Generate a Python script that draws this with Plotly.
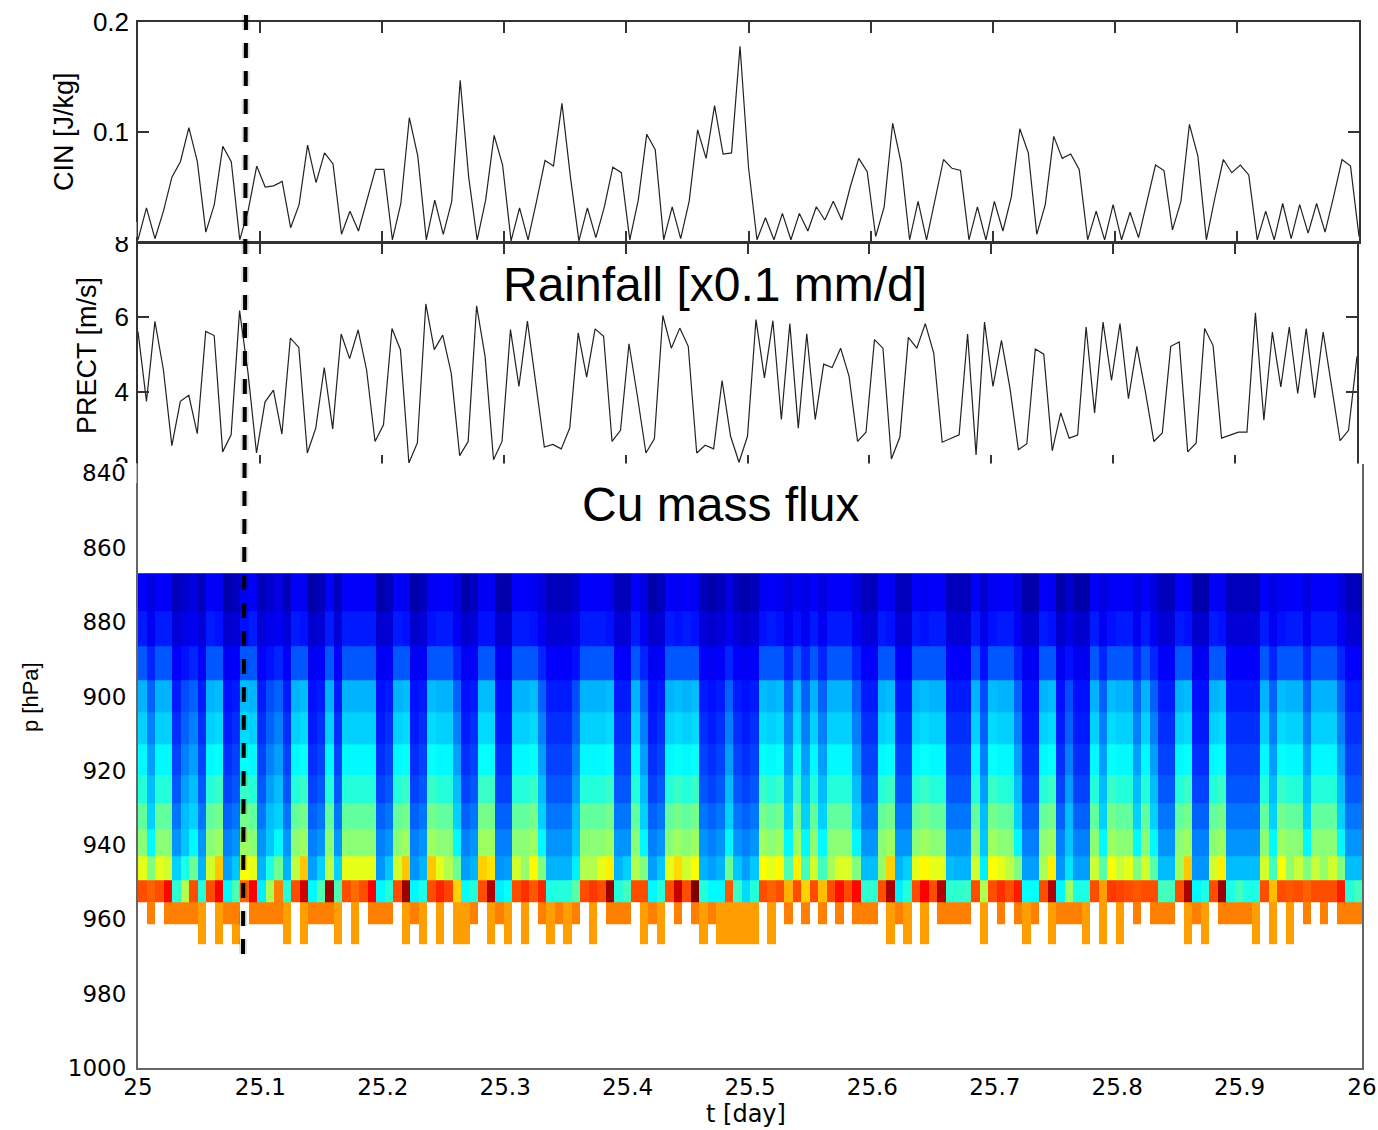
import plotly.graph_objects as go

W, H = 1378, 1130

t_labels = ["25", "25.1", "25.2", "25.3", "25.4", "25.5", "25.6", "25.7", "25.8", "25.9", "26"]
t_ticks = [25.0, 25.1, 25.2, 25.3, 25.4, 25.5, 25.6, 25.7, 25.8, 25.9, 26.0]
t_line = [25 + i / 144 for i in range(145)]
t_edges = [25 + i / 144 for i in range(145)]

cin = [0.002,0.031,0.003,0.028,0.059,0.073,0.104,0.073,0.009,0.034,0.087,0.073,0.002,0.029,0.069,0.050,0.051,0.055,0.013,0.034,
0.088,0.054,0.081,0.071,0.007,0.028,0.010,0.038,0.066,0.066,0.002,0.035,0.113,0.078,0.002,0.038,0.007,0.037,0.147,0.059,
0.002,0.038,0.097,0.070,0.001,0.031,0.002,0.037,0.074,0.069,0.126,0.059,0.001,0.031,0.004,0.032,0.068,0.063,0.002,0.038,
0.098,0.084,0.002,0.032,0.003,0.037,0.102,0.076,0.124,0.080,0.081,0.178,0.068,0.002,0.022,0.002,0.026,0.002,0.026,0.010,
0.032,0.020,0.037,0.020,0.050,0.076,0.064,0.005,0.032,0.108,0.072,0.002,0.037,0.002,0.038,0.075,0.067,0.065,0.002,0.032,
0.002,0.037,0.010,0.041,0.103,0.081,0.007,0.034,0.096,0.076,0.080,0.066,0.002,0.028,0.002,0.034,0.002,0.027,0.004,0.038,
0.070,0.065,0.011,0.037,0.107,0.078,0.002,0.040,0.075,0.063,0.070,0.061,0.002,0.028,0.002,0.035,0.003,0.034,0.008,0.035,
0.009,0.041,0.075,0.069,0.005]

prect = [5.62,3.74,5.89,4.59,2.55,3.74,3.90,2.87,5.62,5.51,2.38,2.84,6.18,4.50,2.35,3.72,4.04,2.86,5.44,5.19,
2.35,3.02,4.65,3.00,5.55,4.89,5.66,4.59,2.66,3.11,5.70,5.13,2.08,2.62,6.36,5.13,5.52,4.50,2.28,2.66,
6.31,4.95,2.17,2.66,5.67,4.14,5.90,4.14,2.51,2.58,2.46,3.02,5.58,4.39,5.69,5.49,2.66,2.96,5.29,3.87,
2.35,2.73,6.05,5.17,5.71,5.22,2.35,2.56,2.46,4.30,2.80,2.10,2.80,5.94,4.37,5.91,3.25,5.83,3.02,5.56,
3.25,4.74,4.65,5.17,4.41,2.66,2.91,5.40,5.17,2.19,2.78,5.46,5.17,5.83,5.04,2.64,2.75,2.84,5.55,2.30,
5.87,4.14,5.38,4.10,2.44,2.60,5.15,5.01,2.41,3.43,2.75,2.83,5.74,3.43,5.87,4.30,5.83,3.81,5.22,4.00,
2.66,2.89,5.22,5.34,2.38,2.62,5.70,5.24,2.75,2.83,2.91,2.91,6.12,3.23,5.60,4.13,5.74,3.95,5.70,3.83,
5.60,4.14,2.68,2.96,4.95]

p_edges = [866.8,876.9,886.5,895.7,904.3,912.9,921.1,928.8,935.8,942.9,949.5,955.5,961.2,966.6]

N = None
row_0 = [12,9,12,12,5,7,9,5,12,11, 3,5,11,12,5,7,9,5,12,11, 3,5,12,5,12,12,12,12,3,5, 12,11,3,5,11,12,12,9,3,5,
11,11,3,3,12,12,11,9,5,5, 5,7,12,12,12,11,5,5,12,9, 3,5,12,11,12,11,5,3,5,9, 5,3,5,11,12,11,9,11,9,12,
9,12,12,12,9,5,5,12,11,5, 5,12,11,12,12,5,5,5,12,7, 11,12,12,9,3,3,12,11,3,7, 3,3,12,9,11,12,12,9,12,9,
5,5,12,11,3,3,12,11,5,5, 5,5,12,9,11,12,12,9,12,12, 12,9,5,5]
row_1 = [15,11,15,15,8,10,11,8,15,14, 7,8,14,15,8,10,11,8,15,14, 7,8,15,8,15,15,15,15,7,8, 15,14,7,8,14,15,15,11,7,8,
14,14,7,7,15,15,14,11,8,8, 8,10,15,15,15,14,8,8,15,11, 7,8,15,14,15,14,8,7,8,11, 8,7,8,14,15,14,11,14,11,15,
11,15,15,15,11,8,8,15,14,8, 8,15,14,15,15,8,8,8,15,10, 14,15,15,11,7,7,15,14,7,10, 7,7,15,11,14,15,15,11,15,11,
8,8,15,14,7,7,15,14,8,8, 8,8,15,11,14,15,15,11,15,15, 15,11,8,8]
row_2 = [21,16,21,21,12,14,16,12,21,21, 11,12,21,21,12,14,16,12,21,21, 11,12,21,12,21,21,21,21,11,12, 21,21,11,12,21,21,21,16,11,12,
21,21,11,11,21,21,21,16,12,12, 12,14,21,21,21,21,12,12,21,16, 11,12,21,21,21,21,12,11,12,16, 12,11,12,21,21,21,16,21,16,21,
16,21,21,21,16,12,12,21,21,12, 12,21,21,21,21,12,12,12,21,14, 21,21,21,16,11,11,21,21,11,14, 11,11,21,16,21,21,21,16,21,16,
12,12,21,21,11,11,21,21,12,12, 12,12,21,16,21,21,21,16,21,21, 21,16,12,12]
row_3 = [30,22,30,30,15,20,22,15,30,31, 14,15,31,30,15,20,22,15,30,31, 14,15,30,15,30,30,30,30,14,15, 30,31,14,15,31,30,30,22,14,15,
31,31,14,14,30,30,31,22,15,15, 15,20,30,30,30,31,15,15,30,22, 14,15,30,31,30,31,15,14,15,22, 15,14,15,31,30,31,22,31,22,30,
22,30,30,30,22,15,15,30,31,15, 15,30,31,30,30,15,15,15,30,20, 31,30,30,22,14,14,30,31,14,20, 14,14,30,22,31,30,30,22,30,22,
15,15,30,31,14,14,30,31,15,15, 15,15,30,22,31,30,30,22,30,30, 30,22,15,15]
row_4 = [33,25,33,33,17,22,25,17,33,34, 15,17,34,33,17,22,25,17,33,34, 15,17,33,17,33,33,33,33,15,17, 33,34,15,17,34,33,33,25,15,17,
34,34,15,15,33,33,34,25,17,17, 17,22,33,33,33,34,17,17,33,25, 15,17,33,34,33,34,17,15,17,25, 17,15,17,34,33,34,25,34,25,33,
25,33,33,33,25,17,17,33,34,17, 17,33,34,33,33,17,17,17,33,22, 34,33,33,25,15,15,33,34,15,22, 15,15,33,25,34,33,33,25,33,25,
17,17,33,34,15,15,33,34,17,17, 17,17,33,25,34,33,33,25,33,33, 33,25,17,17]
row_5 = [37,28,37,37,19,25,28,19,37,38, 17,19,38,37,19,25,28,19,37,38, 17,19,37,19,37,37,37,37,17,19, 37,38,17,19,38,37,37,28,17,19,
38,38,17,17,37,37,38,28,19,19, 19,25,37,37,37,38,19,19,37,28, 17,19,37,38,37,38,19,17,19,28, 19,17,19,38,37,38,28,38,28,37,
28,37,37,37,28,19,19,37,38,19, 19,37,38,37,37,19,19,19,37,25, 38,37,37,28,17,17,37,38,17,25, 17,17,37,28,38,37,37,28,37,28,
19,19,37,38,17,17,37,38,19,19, 19,19,37,28,38,37,37,28,37,37, 37,28,19,19]
row_6 = [41,31,41,41,21,28,31,21,41,43, 19,21,43,41,21,28,31,21,41,43, 19,21,41,21,41,41,41,41,19,21, 41,43,19,21,43,41,41,31,19,21,
43,43,19,19,41,41,43,31,21,21, 21,28,41,41,41,43,21,21,41,31, 19,21,41,43,41,43,21,19,21,31, 21,19,21,43,41,43,31,43,31,41,
31,41,41,41,31,21,21,41,43,21, 21,41,43,41,41,21,21,21,41,28, 43,41,41,31,19,19,41,43,19,28, 19,19,41,31,43,41,41,31,41,31,
21,21,41,43,19,19,41,43,21,21, 21,21,41,31,43,41,41,31,41,41, 41,31,21,21]
row_7 = [47,33,47,47,24,31,33,24,47,49, 22,24,49,47,24,31,33,24,47,49, 22,24,47,24,47,47,47,47,22,24, 47,49,22,24,49,47,47,33,22,24,
49,49,22,22,47,47,49,33,24,24, 24,31,47,47,47,49,24,24,47,33, 22,24,47,49,47,49,24,22,24,33, 24,22,24,49,47,49,33,49,33,47,
33,47,47,47,33,24,24,47,49,24, 24,47,49,47,47,24,24,24,47,31, 49,47,47,33,22,22,47,49,22,31, 22,22,47,33,49,47,47,33,47,33,
24,24,47,49,22,22,47,49,24,24, 24,24,47,33,49,47,47,33,47,47, 47,33,24,24]
row_8 = [51,37,51,51,27,32,37,27,51,53, 25,27,53,51,27,32,37,27,51,53, 25,27,51,27,51,51,51,51,25,27, 51,53,25,27,53,51,51,37,25,27,
53,53,25,25,51,51,53,37,27,27, 27,32,51,51,51,53,27,27,51,37, 25,27,51,53,51,53,27,25,27,37, 27,25,27,53,51,53,37,53,37,51,
37,51,51,51,37,27,27,51,53,27, 27,51,53,51,51,27,27,27,51,32, 53,51,51,37,25,25,51,53,25,32, 25,25,51,37,53,51,51,37,51,37,
27,27,51,53,25,25,51,53,27,27, 27,27,51,37,53,51,51,37,51,51, 51,37,27,27]
row_9 = [60,50,60,58,33,40,48,30,58,68, 28,32,62,60,30,40,48,30,56,68, 28,33,56,33,60,60,60,60,27,32,
58,68,27,30,68,60,55,48,28,30, 67,65,27,28,58,52,63,50,30,30, 30,36,55,55,60,64,30,33,55,50,
28,32,60,66,58,62,30,28,30,48, 32,28,32,62,60,63,45,64,44,58, 44,54,59,59,50,31,31,52,67,30,
33,60,63,60,60,31,30,30,58,36, 62,60,56,50,28,28,54,64,27,35, 28,28,57,46,62,57,60,50,58,46,
31,31,53,68,27,27,58,64,31,31, 31,31,58,44,62,52,57,50,57,52, 58,50,31,31]
row_10 = [80,78,80,87,42,55,80,41,80,88, 37,45,78,88,36,54,75,41,80,92, 37,45,97,45,80,77,80,88,37,41,
80,97,37,40,80,84,81,67,38,41, 80,95,36,38,80,83,79,84,40,41, 41,46,80,82,80,97,41,44,80,80,
37,41,80,93,80,100,41,37,37,79, 43,34,41,80,78,80,70,80,67,80, 69,80,86,80,87,42,42,80,96,36,
41,80,88,80,95,42,42,43,80,55, 80,83,80,85,38,38,80,95,37,53, 40,40,80,72,82,81,80,79,80,80,
44,44,80,96,37,40,80,97,40,44, 40,40,80,69,80,79,80,78,80,80, 80,85,41,44]
row_11 = [N,75,N,75,75,75,75,72,N,72, 75,75,N,75,75,75,75,72,N,72, 75,75,75,72,N,72,N,75,75,75,
N,72,75,72,N,72,N,72,72,75, N,72,75,72,N,72,N,75,72,75, 72,75,N,72,N,75,75,75,N,72,
75,72,N,75,N,75,72,75,72,72, 72,72,72,N,72,N,75,N,75,N, 75,N,75,N,75,75,75,N,72,75,
72,N,72,N,75,75,75,75,N,72, N,75,N,75,72,75,N,72,75,75, 75,72,N,72,N,72,N,75,N,75,
75,75,N,72,75,72,N,75,75,75, 75,72,N,72,N,72,N,75,N,75, N,75,75,75]
row_12 = [N,N,N,N,N,N,N,72,N,72, N,72,N,N,N,N,N,72,N,72, N,N,N,72,N,72,N,N,N,N,
N,72,N,72,N,72,N,72,72,N, N,72,N,72,N,72,N,N,72,N, 72,N,N,72,N,N,N,N,N,72,
N,72,N,N,N,N,72,N,72,72, 72,72,72,N,72,N,N,N,N,N, N,N,N,N,N,N,N,N,72,N,
72,N,72,N,N,N,N,N,N,72, N,N,N,N,72,N,N,72,N,N, N,72,N,72,N,72,N,N,N,N,
N,N,N,72,N,72,N,N,N,N, N,72,N,72,N,72,N,N,N,N, N,N,N,N]

jet = [[0, "rgb(0,0,143)"], [0.125, "rgb(0,0,255)"], [0.375, "rgb(0,255,255)"],
       [0.625, "rgb(255,255,0)"], [0.875, "rgb(255,0,0)"], [1, "rgb(128,0,0)"]]


def fx(px):
    return px / W


def fy(py):
    return 1 - py / H


fig = go.Figure()
fig.add_trace(go.Scatter(x=t_line, y=cin, mode="lines", line=dict(color="#222", width=1.2),
                         xaxis="x", yaxis="y", showlegend=False, hoverinfo="skip"))
fig.add_trace(go.Scatter(x=t_line, y=prect, mode="lines", line=dict(color="#222", width=1.2),
                         xaxis="x2", yaxis="y2", showlegend=False, hoverinfo="skip"))
fig.add_trace(go.Heatmap(x=t_edges, y=p_edges,
                         z=[row_0, row_1, row_2, row_3, row_4, row_5, row_6, row_7, row_8, row_9, row_10, row_11, row_12],
                         zmin=0, zmax=100, colorscale=jet, showscale=False, hoverinfo="skip",
                         xaxis="x3", yaxis="y3"))

font_top = dict(family="Liberation Sans", size=26, color="black")
font_low = dict(family="DejaVu Sans", size=23, color="black")
frame = dict(showgrid=False, zeroline=False, showline=True, linecolor="#333", linewidth=1.5,
             ticks="inside", ticklen=11, tickcolor="#333", tickwidth=1.5, mirror="allticks", automargin=False)

layout = dict(
    template="none",
    width=W, height=H, margin=dict(l=0, r=0, t=0, b=0, pad=0, autoexpand=False),
    paper_bgcolor="white", plot_bgcolor="white",
    showlegend=False,
    xaxis=dict(domain=[fx(138), fx(1359)], range=[25, 26], anchor="y", tickvals=t_ticks,
               showticklabels=False, **frame),
    yaxis=dict(domain=[fy(242), fy(22)], range=[0, 0.2], anchor="x", tickvals=[0.1, 0.2],
               ticktext=["0.1", "0.2"], tickfont=font_top, ticklabelstandoff=2, **frame),
    xaxis2=dict(domain=[fx(138), fx(1357)], range=[25, 26], anchor="y2", tickvals=t_ticks,
                showticklabels=False, **frame),
    yaxis2=dict(domain=[fy(466), fy(243)], range=[2, 8], anchor="x2", tickvals=[2, 4, 6, 8],
                ticktext=["2", "4", "6", "8"], tickfont=font_top, ticklabelstandoff=2, **frame),
    xaxis3=dict(domain=[fx(138), fx(1362)], range=[25, 26], anchor="y3", tickvals=t_ticks, ticktext=t_labels,
                tickfont=font_low, showgrid=False, zeroline=False, showline=True, linecolor="#666", linewidth=2,
                ticks="", ticklabelstandoff=-3, automargin=False),
    yaxis3=dict(domain=[fy(1068), fy(464)], range=[1000, 837.4], anchor="x3",
                tickvals=[860, 880, 900, 920, 940, 960, 980, 1000],
                ticktext=["860", "880", "900", "920", "940", "960", "980", "1000"],
                tickfont=font_low, showgrid=False, zeroline=False, showline=True, linecolor="#666", linewidth=2,
                mirror=True, ticks="", ticklabelstandoff=5, automargin=False),
)


def rect(x0, x1, y0, y1):
    return dict(type="rect", xref="paper", yref="paper", x0=fx(x0), x1=fx(x1), y0=fy(y0), y1=fy(y1),
                fillcolor="white", line=dict(width=0), layer="above")


def dash(width, color, pattern):
    return dict(type="line", xref="paper", yref="paper", x0=fx(246), x1=fx(243), y0=fy(15), y1=fy(958),
                line=dict(color=color, width=width, dash=pattern), layer="above")


layout["shapes"] = [
    rect(90, 136.5, 463, 483),
    rect(139.5, 1358.8, 463.5, 480),
    rect(100, 136.5, 222, 237),
    dash(8, "rgba(0,0,0,0.12)", "15px,13px"),
    dash(4, "black", "15px,13px"),
]


def note(text, x, y, size, family="Liberation Sans", angle=0, xanchor="center"):
    return dict(text=text, xref="paper", yref="paper", x=fx(x), y=fy(y), showarrow=False, textangle=angle,
                xanchor=xanchor, yanchor="middle", font=dict(family=family, size=size, color="black"))


layout["annotations"] = [
    note("Rainfall [x0.1 mm/d]", 715, 284, 48),
    note("Cu mass flux", 720, 505, 48),
    note("CIN [J/kg]", 64, 132, 27, angle=-90),
    note("PRECT [m/s]", 87, 356, 27, angle=-90),
    note("p [hPa]", 30, 697, 22, angle=-90),
    note("t [day]", 746, 1114, 24, family="DejaVu Sans"),
    note("840", 128, 473, 23, family="DejaVu Sans", xanchor="right"),
]

fig.update_layout(**layout)
fig.write_html("out.html", config={"displayModeBar": False},
               post_script="document.body.style.margin='0';document.body.style.overflow='hidden';")
